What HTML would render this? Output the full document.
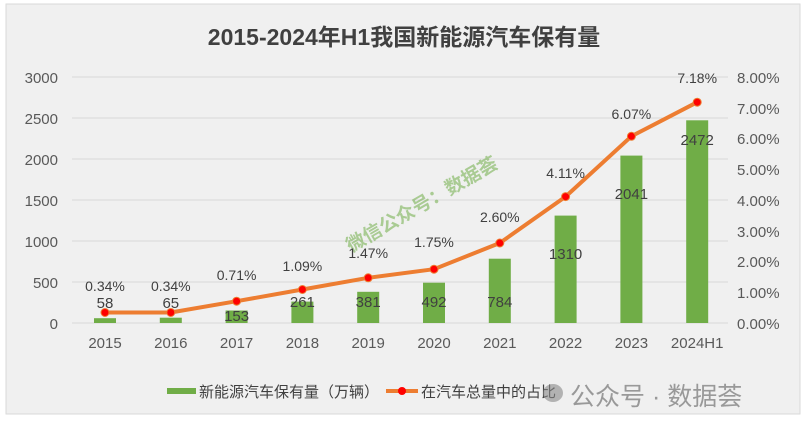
<!DOCTYPE html><html><head><meta charset="utf-8"><style>body{margin:0;background:#fff;width:809px;height:428px;overflow:hidden}</style></head><body>
<svg width="809" height="428" xmlns="http://www.w3.org/2000/svg" font-family="Liberation Sans, Noto Sans CJK SC, sans-serif">
<rect x="6" y="4" width="794" height="410" fill="#f0f0f0" stroke="#d9d9d9"/>
<text x="404" y="45" text-anchor="middle" font-size="23" font-weight="bold" fill="#404040">2015-2024年H1我国新能源汽车保有量</text>
<g stroke="#d9d9d9" stroke-width="1">
<line x1="72" x2="728" y1="77" y2="77"/><line x1="72" x2="728" y1="118" y2="118"/><line x1="72" x2="728" y1="159" y2="159"/><line x1="72" x2="728" y1="200" y2="200"/><line x1="72" x2="728" y1="241" y2="241"/><line x1="72" x2="728" y1="282" y2="282"/><line x1="72" x2="728" y1="323" y2="323"/></g>
<g font-size="15" fill="#595959" text-anchor="end">
<text x="58" y="83">3000</text><text x="58" y="124">2500</text><text x="58" y="165">2000</text><text x="58" y="206">1500</text><text x="58" y="247">1000</text><text x="58" y="288">500</text><text x="58" y="329">0</text></g>
<g font-size="15" fill="#595959" text-anchor="start">
<text x="737" y="83">8.00%</text><text x="737" y="114">7.00%</text><text x="737" y="144">6.00%</text><text x="737" y="175">5.00%</text><text x="737" y="206">4.00%</text><text x="737" y="237">3.00%</text><text x="737" y="267">2.00%</text><text x="737" y="298">1.00%</text><text x="737" y="329">0.00%</text></g>
<g fill="#70ad47">
<rect x="94" y="318.2" width="22" height="4.8"/><rect x="159.8" y="317.7" width="22" height="5.3"/><rect x="225.6" y="310.5" width="22" height="12.5"/><rect x="291.4" y="301.6" width="22" height="21.4"/><rect x="357.2" y="291.8" width="22" height="31.2"/><rect x="423" y="282.7" width="22" height="40.3"/><rect x="488.8" y="258.7" width="22" height="64.3"/><rect x="554.6" y="215.6" width="22" height="107.4"/><rect x="620.4" y="155.6" width="22" height="167.4"/><rect x="686.2" y="120.3" width="22" height="202.7"/></g>
<g font-size="15" fill="#595959" text-anchor="middle">
<text x="105" y="348">2015</text><text x="170.8" y="348">2016</text><text x="236.6" y="348">2017</text><text x="302.4" y="348">2018</text><text x="368.2" y="348">2019</text><text x="434" y="348">2020</text><text x="499.8" y="348">2021</text><text x="565.6" y="348">2022</text><text x="631.4" y="348">2023</text><text x="697.2" y="348">2024H1</text></g>
<text x="425" y="210" transform="rotate(-30 425 210)" text-anchor="middle" font-size="19" font-weight="bold" fill="#70ad47" fill-opacity="0.55">微信公众号：数据荟</text>
<polyline fill="none" stroke="#ed7d31" stroke-width="4" stroke-linejoin="round" points="105,312.5 170.8,312.5 236.6,301.2 302.4,289.5 368.2,277.8 434,269.2 499.8,243 565.6,196.6 631.4,136.3 697.2,102.2"/>
<g fill="#ff0000" stroke="#ed7d31" stroke-width="1">
<circle cx="105" cy="312.5" r="4"/><circle cx="170.8" cy="312.5" r="4"/><circle cx="236.6" cy="301.2" r="4"/><circle cx="302.4" cy="289.5" r="4"/><circle cx="368.2" cy="277.8" r="4"/><circle cx="434" cy="269.2" r="4"/><circle cx="499.8" cy="243" r="4"/><circle cx="565.6" cy="196.6" r="4"/><circle cx="631.4" cy="136.3" r="4"/><circle cx="697.2" cy="102.2" r="4"/></g>
<g font-size="15" fill="#404040" text-anchor="middle">
<text x="105" y="308">58</text><text x="170.8" y="308">65</text><text x="236.6" y="321">153</text><text x="302.4" y="307">261</text><text x="368.2" y="307">381</text><text x="434" y="307">492</text><text x="499.8" y="307">784</text><text x="565.6" y="259">1310</text><text x="631.4" y="199">2041</text><text x="697.2" y="145">2472</text></g>
<g font-size="14" fill="#404040" text-anchor="middle">
<text x="105" y="291">0.34%</text><text x="170.8" y="291">0.34%</text><text x="236.6" y="280">0.71%</text><text x="302.4" y="271">1.09%</text><text x="368.2" y="258">1.47%</text><text x="434" y="247">1.75%</text><text x="499.8" y="222">2.60%</text><text x="565.6" y="178">4.11%</text><text x="631.4" y="119">6.07%</text><text x="697.2" y="83">7.18%</text></g>
<rect x="167" y="388" width="29" height="6" fill="#70ad47"/>
<text x="199" y="397" font-size="15" fill="#404040">新能源汽车保有量（万辆）</text>
<line x1="386" x2="418" y1="391" y2="391" stroke="#ed7d31" stroke-width="4"/>
<circle cx="402" cy="391" r="4" fill="#ff0000"/>
<text x="421" y="397" font-size="15" fill="#404040">在汽车总量中的占比</text>
<ellipse cx="553" cy="393" rx="10" ry="9" fill="#888" fill-opacity="0.6"/>
<text x="570" y="405" font-size="25" fill="#8a8a8a" fill-opacity="0.85">公众号 · 数据荟</text>
</svg></body></html>
